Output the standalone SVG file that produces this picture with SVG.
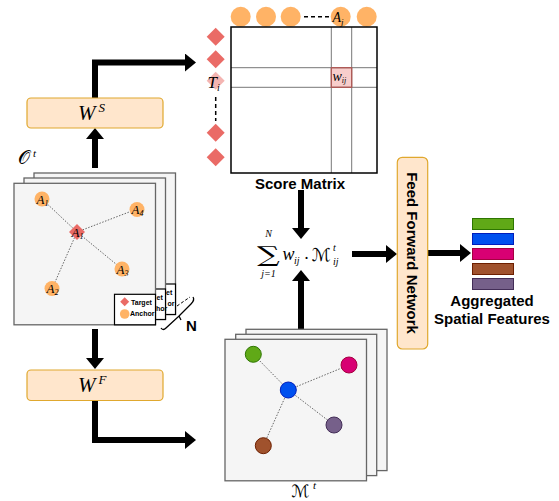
<svg xmlns="http://www.w3.org/2000/svg" width="559" height="501" viewBox="0 0 559 501">
<defs>
<style>
.panel{fill:#f5f5f5;stroke:#666;stroke-width:1.3}
.box{fill:#ffe6cc;stroke:#e0a82e;stroke-width:1.2}
.arrow{fill:none;stroke:#000;stroke-width:6;stroke-linejoin:miter;marker-end:url(#ah)}
.math{font-family:"Liberation Serif","DejaVu Serif",serif;font-style:italic;fill:#000}
.cal{font-family:"DejaVu Serif","DejaVu Sans",serif;fill:#000}
.lbl{font-family:"Liberation Sans",Arial,sans-serif;font-weight:bold;fill:#000}
.anchor{fill:#ffb366}
.target{fill:#ea6b66}
.dot{stroke:#666;stroke-width:1;stroke-dasharray:1.5 1.5;fill:none}
.grid{stroke:#777;stroke-width:1}
.dash{stroke:#000;stroke-width:1.5;stroke-dasharray:4 3;fill:none}
.legend{fill:#fff;stroke:#000;stroke-width:1.2}
.ltxt{font-family:"Liberation Sans",Arial,sans-serif;font-weight:bold;font-size:7px;fill:#000}
</style>
<marker id="ah" markerUnits="userSpaceOnUse" viewBox="0 0 11 18" markerWidth="11" markerHeight="18" refX="0" refY="9" orient="auto"><path d="M0,0 L11,9 L0,18 z" fill="#000"/></marker>
</defs>
<rect x="0" y="0" width="559" height="501" fill="#fff"/>

<g id="connectors">
<path class="arrow" d="M95,168 L95,139"/>
<path class="arrow" d="M95,128 L95,62.5 L185,62.5"/>
<path class="arrow" d="M95,329 L95,358"/>
<path class="arrow" d="M95,401 L95,440 L185,440"/>
<path class="arrow" d="M301,190 L301,228"/>
<path class="arrow" d="M301,329 L301,281"/>
<path class="arrow" d="M352,254 L386,254"/>
<path class="arrow" d="M428,253 L460,253"/>
</g>

<g id="observation-stack">
<rect class="panel" x="34" y="173" width="141.5" height="141.5"/>
<rect class="legend" x="134.5" y="284" width="41" height="30.5"/>
<text class="ltxt" x="166" y="294.5">et</text>
<text class="ltxt" x="167.5" y="306">or</text>
<rect class="panel" x="24" y="178" width="141.5" height="141.5"/>
<rect class="legend" x="124.5" y="289" width="41" height="30.5"/>
<text class="ltxt" x="156.5" y="299.5">et</text>
<text class="ltxt" x="156" y="311">hor</text>
<rect class="panel" x="14" y="183.3" width="141.5" height="141.5"/>
<line class="dot" x1="77" y1="232" x2="42" y2="199"/>
<line class="dot" x1="77" y1="232" x2="137" y2="209"/>
<line class="dot" x1="77" y1="232" x2="122" y2="269"/>
<line class="dot" x1="77" y1="232" x2="52" y2="289"/>
<circle class="anchor" cx="42" cy="199" r="7.5"/>
<circle class="anchor" cx="137" cy="209.5" r="7.5"/>
<circle class="anchor" cx="122" cy="269" r="7.5"/>
<circle class="anchor" cx="52" cy="288.5" r="7.5"/>
<polygon class="target" points="77,224 85,232 77,240 69,232"/>
<text class="math" font-size="13" x="36.5" y="203.5">A<tspan font-size="8" dy="2">1</tspan></text>
<text class="math" font-size="13" x="131.5" y="214">A<tspan font-size="8" dy="2">4</tspan></text>
<text class="math" font-size="13" x="116.5" y="273.5">A<tspan font-size="8" dy="2">3</tspan></text>
<text class="math" font-size="13" x="46.5" y="293">A<tspan font-size="8" dy="2">2</tspan></text>
<text class="math" font-size="13" x="71.5" y="236.5">A<tspan font-size="8" dy="2">1</tspan></text>
<rect class="legend" x="114.5" y="294.3" width="41" height="30.5"/>
<polygon class="target" points="124.7,297.2 129.2,301.7 124.7,306.2 120.2,301.7"/>
<circle class="anchor" cx="124.7" cy="314" r="4.8"/>
<text class="ltxt" x="131" y="304.5">Target</text>
<text class="ltxt" x="130" y="316">Anchor</text>
<text class="cal" font-size="19" x="18" y="164">𝒪</text>
<text class="math" font-size="11" x="33" y="157">t</text>
</g>

<g id="n-brace">
<path d="M161,328 Q163,331 166,328 L179,316 L181,320 M179,316 L191,304 Q195,300 193,297" stroke="#000" stroke-width="1.3" fill="none"/>
<path d="M177,306 L190,297" stroke="#000" stroke-width="1" stroke-dasharray="3 2" fill="none"/>
<text class="lbl" font-size="15" x="186" y="331">N</text>
</g>

<g id="ws-box">
<rect class="box" x="27" y="98" width="136" height="30" rx="4"/>
<text class="math" font-size="21" x="78" y="119.5">W<tspan font-size="13" dx="3" dy="-8">S</tspan></text>
</g>

<g id="wf-box">
<rect class="box" x="27" y="370" width="136" height="30.5" rx="4"/>
<text class="math" font-size="21" x="78" y="391.5">W<tspan font-size="13" dx="3" dy="-8">F</tspan></text>
</g>

<g id="score-matrix">
<circle class="anchor" cx="240.7" cy="16.7" r="10"/>
<circle class="anchor" cx="266" cy="16.7" r="10"/>
<circle class="anchor" cx="290.7" cy="16.7" r="10"/>
<circle class="anchor" cx="340.7" cy="16.7" r="10"/>
<circle class="anchor" cx="366.7" cy="16.7" r="10"/>
<line class="dash" x1="304" y1="16.7" x2="329" y2="16.7"/>
<text class="math" font-size="14" x="332.5" y="21.5">A<tspan font-size="9" dy="3">j</tspan></text>
<polygon class="target" points="215.7,27.7 224.7,36.7 215.7,45.7 206.7,36.7"/>
<polygon class="target" points="215.7,50.3 224.7,59.3 215.7,68.3 206.7,59.3"/>
<polygon class="target" points="215.7,71.7 224.7,80.7 215.7,89.7 206.7,80.7" opacity="0.5"/>
<polygon class="target" points="215.7,123.7 224.7,132.7 215.7,141.7 206.7,132.7"/>
<polygon class="target" points="215.7,148.3 224.7,157.3 215.7,166.3 206.7,157.3"/>
<line class="dash" x1="215.7" y1="97" x2="215.7" y2="121"/>
<text class="math" font-size="17" x="207.5" y="87.5">T<tspan font-size="10" dy="3">i</tspan></text>
<rect x="331.3" y="67.7" width="20.4" height="19.6" fill="#f8cecc" stroke="#b85450" stroke-width="1"/>
<line class="grid" x1="231" y1="67.7" x2="377" y2="67.7"/>
<line class="grid" x1="231" y1="87.3" x2="377" y2="87.3"/>
<line class="grid" x1="331.3" y1="27" x2="331.3" y2="173"/>
<line class="grid" x1="351.7" y1="27" x2="351.7" y2="173"/>
<rect x="331.3" y="67.7" width="20.4" height="19.6" fill="none" stroke="#b85450" stroke-width="1"/>
<rect x="231" y="27" width="146" height="146" fill="none" stroke="#000" stroke-width="1.5"/>
<text class="math" font-size="14" x="332.5" y="81">w<tspan font-size="8" dy="2">ij</tspan></text>
<text class="lbl" font-size="15" x="300" y="189" text-anchor="middle">Score Matrix</text>
</g>

<g id="aggregation-sum">
<text class="cal" font-size="22" transform="translate(268.5,261.5) scale(1.45,1)" x="0" y="0" text-anchor="middle">∑</text>
<text class="math" font-size="10" x="268.5" y="237" text-anchor="middle">N</text>
<text class="math" font-size="10" x="268.5" y="276.5" text-anchor="middle">j=1</text>
<text class="math" font-size="18" x="282.5" y="260">w</text>
<text class="math" font-size="10" x="294" y="264">ij</text>
<text class="cal" font-size="16" x="304" y="264">·</text>
<text class="cal" font-size="18" x="311.5" y="261">ℳ</text>
<text class="math" font-size="10" x="333" y="251">t</text>
<text class="math" font-size="10" x="333" y="265">ij</text>
</g>

<g id="feed-forward">
<rect class="box" x="397.3" y="157.3" width="30.4" height="191.7" rx="5"/>
<text class="lbl" font-size="15" transform="translate(412.5,253) rotate(90)" x="0" y="5.3" text-anchor="middle">Feed Forward Network</text>
</g>

<g id="aggregated-features">
<rect x="472.5" y="218.5" width="41" height="11" fill="#60a917" stroke="#2d7600"/>
<rect x="472.5" y="233.5" width="41" height="11" fill="#0050ef" stroke="#001dbc"/>
<rect x="472.5" y="248.5" width="41" height="11" fill="#d80073" stroke="#a50040"/>
<rect x="472.5" y="263.5" width="41" height="11" fill="#a0522d" stroke="#6d1f00"/>
<rect x="472.5" y="278.5" width="41" height="11" fill="#76608a" stroke="#432d57"/>
<text class="lbl" font-size="15" x="492" y="306" text-anchor="middle">Aggregated</text>
<text class="lbl" font-size="15" x="492" y="323.5" text-anchor="middle">Spatial Features</text>
</g>

<g id="feature-map-stack">
<rect class="panel" x="246" y="329.3" width="141" height="141.3"/>
<rect class="panel" x="235.7" y="334.3" width="141" height="141.3"/>
<rect class="panel" x="225" y="339.3" width="141.5" height="141.5"/>
<line class="dot" x1="288.3" y1="390" x2="253.3" y2="354.3"/>
<line class="dot" x1="288.3" y1="390" x2="349" y2="365"/>
<line class="dot" x1="288.3" y1="390" x2="334" y2="425"/>
<line class="dot" x1="288.3" y1="390" x2="263.3" y2="445.7"/>
<circle cx="253.3" cy="354.3" r="8" fill="#60a917" stroke="#2d7600"/>
<circle cx="349" cy="365" r="8" fill="#d80073" stroke="#a50040"/>
<circle cx="288.3" cy="390" r="8" fill="#0050ef" stroke="#001dbc"/>
<circle cx="334" cy="425" r="8" fill="#76608a" stroke="#432d57"/>
<circle cx="263.3" cy="445.7" r="8" fill="#a0522d" stroke="#6d1f00"/>
<text class="cal" font-size="17" x="291.5" y="497">ℳ</text>
<text class="math" font-size="11" x="313" y="489">t</text>
</g>
</svg>
